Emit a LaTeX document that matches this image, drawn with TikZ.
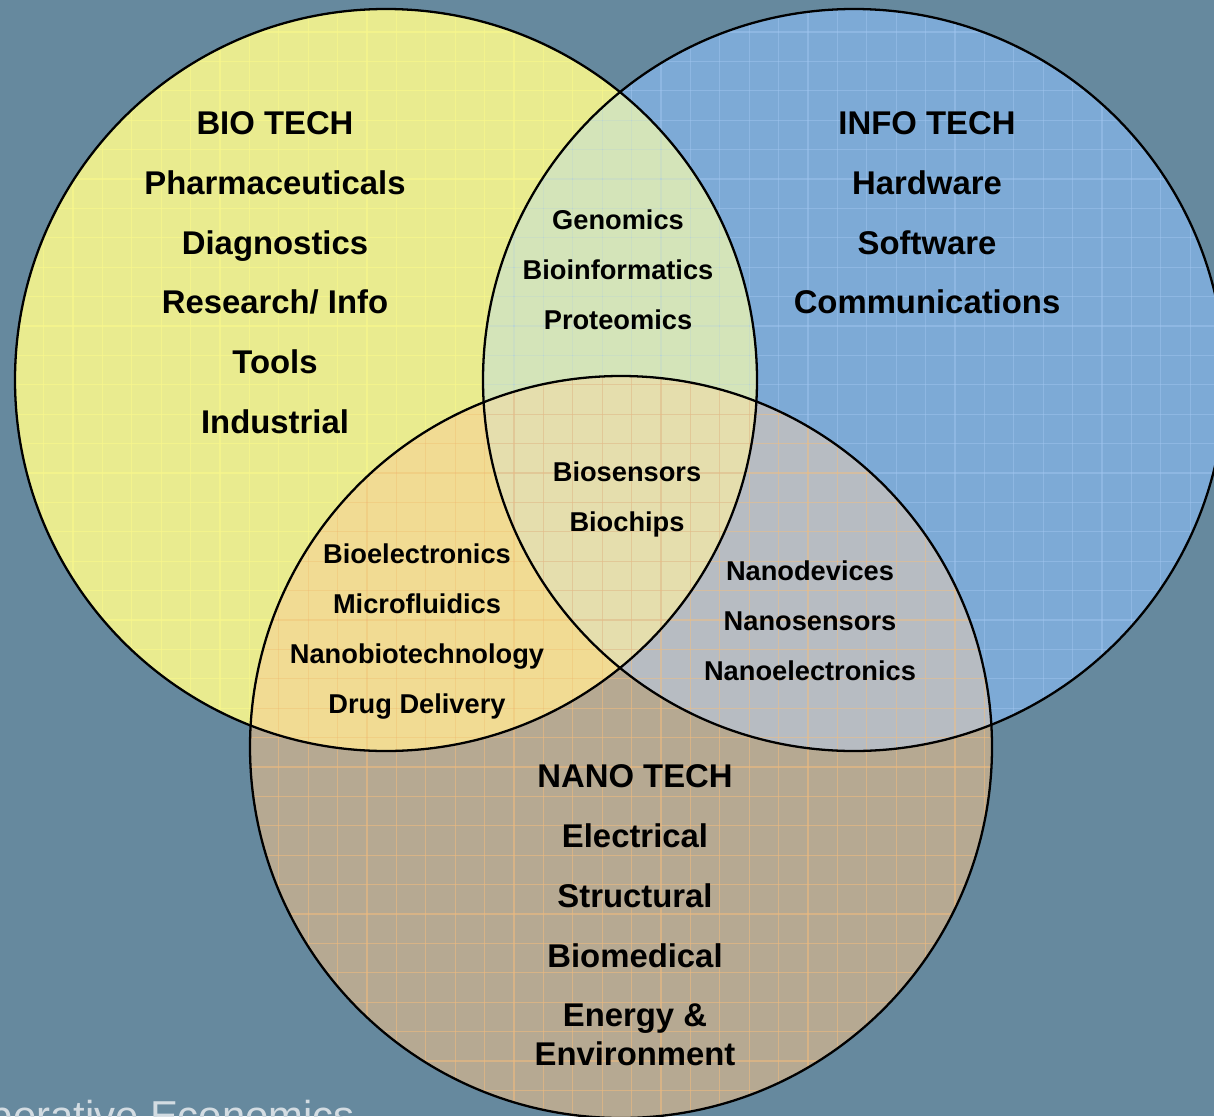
\documentclass[tikz,border=0pt]{standalone}
\usepackage{fontspec}
\setmainfont{Liberation Sans}
\definecolor{bg}{HTML}{66899E}
\definecolor{bioC}{HTML}{E9EB8F}
\definecolor{infoC}{HTML}{7DAAD6}
\definecolor{nanoC}{HTML}{B6A992}
\definecolor{bioinfoC}{HTML}{D4E4B9}
\definecolor{bionanoC}{HTML}{F1DB93}
\definecolor{infonanoC}{HTML}{B7BCC2}
\definecolor{centerC}{HTML}{E5DEAD}
\definecolor{bioG}{HTML}{F8F78C}
\definecolor{infoG}{HTML}{A3C8F2}
\definecolor{nanoG}{HTML}{EEBB7E}
\definecolor{capC}{HTML}{D3DCE2}
\begin{document}
\begin{tikzpicture}[x=0.02cm,y=-0.02cm,
  big/.style={font=\fontsize{18.7}{22}\selectfont\bfseries, anchor=base, inner sep=0pt},
  small/.style={font=\fontsize{15.5}{18}\selectfont\bfseries, anchor=base, inner sep=0pt},
  ring/.style={draw=black, line width=1.3pt},
  gridline/.style={line width=0.7pt, opacity=0.7}]
\def\bio{(386,380) circle (371)}
\def\info{(854,380) circle (371)}
\def\nano{(621,747) circle (371)}
\useasboundingbox (0,0) rectangle (1214,1116);
\clip (0,0) rectangle (1214,1116);
\fill[bg] (0,0) rectangle (1214,1116);
% base fills
\fill[bioC] \bio;
\fill[infoC] \info;
\fill[nanoC] \nano;
% overlaps
\begin{scope}
  \clip \bio;
  \fill[bioinfoC] \info;
  \fill[bionanoC] \nano;
\end{scope}
\begin{scope}
  \clip \info;
  \fill[infonanoC] \nano;
\end{scope}
\begin{scope}
  \clip \bio;
  \clip \info;
  \fill[centerC] \nano;
\end{scope}
% grids
\begin{scope}
  \clip \bio;
  \foreach \i in {0,...,41} {\draw[gridline, bioG] (14.2+\i*29.4,0) -- ++(0,1116);}
  \foreach \i in {0,...,38} {\draw[gridline, bioG] (0,2.6+\i*29.4) -- ++(1214,0);}
\end{scope}
\begin{scope}
  \clip \info;
  \foreach \i in {0,...,41} {\draw[gridline, infoG, opacity=0.45] (14.2+\i*29.4,0) -- ++(0,1116);}
  \foreach \i in {0,...,38} {\draw[gridline, infoG, opacity=0.45] (0,2.6+\i*29.4) -- ++(1214,0);}
\end{scope}
\begin{scope}
  \clip \nano;
  \foreach \i in {0,...,41} {\draw[gridline, nanoG, opacity=0.6] (14.2+\i*29.4,0) -- ++(0,1116);}
  \foreach \i in {0,...,38} {\draw[gridline, nanoG, opacity=0.6] (0,2.6+\i*29.4) -- ++(1214,0);}
\end{scope}
% outlines
\draw[ring] \bio;
\draw[ring] \info;
\draw[ring] \nano;
% BIO TECH
\node[big] (b1) at (275,134) {BIO TECH};
\node[big] (b2) at (275,194) {Pharmaceuticals};
\node[big] (b3) at (275,254) {Diagnostics};
\node[big] (b4) at (275,313) {Research/ Info};
\node[big] (b5) at (275,373) {Tools};
\node[big] (b6) at (275,433) {Industrial};
% INFO TECH
\node[big] (i1) at (927,134) {INFO TECH};
\node[big] (i2) at (927,194) {Hardware};
\node[big] (i3) at (927,254) {Software};
\node[big] (i4) at (927,313) {Communications};
% NANO TECH
\node[big] (n1) at (635,787) {NANO TECH};
\node[big] (n2) at (635,847) {Electrical};
\node[big] (n3) at (635,907) {Structural};
\node[big] (n4) at (635,967) {Biomedical};
\node[big] (n5) at (635,1026) {Energy \&};
\node[big] (n6) at (635,1065) {Environment};
% Bio-Info
\node[small] (bi1) at (618,229) {Genomics};
\node[small] (bi2) at (618,279) {Bioinformatics};
\node[small] (bi3) at (618,329) {Proteomics};
% center
\node[small] (c1) at (627,481) {Biosensors};
\node[small] (c2) at (627,531) {Biochips};
% Bio-Nano
\node[small] (bn1) at (417,563) {Bioelectronics};
\node[small] (bn2) at (417,613) {Microfluidics};
\node[small] (bn3) at (417,663) {Nanobiotechnology};
\node[small] (bn4) at (417,713) {Drug Delivery};
% Info-Nano
\node[small] (in1) at (810,580) {Nanodevices};
\node[small] (in2) at (810,630) {Nanosensors};
\node[small] (in3) at (810,680) {Nanoelectronics};
% caption (cut off at the bottom edge, as in the reference)
\node[font=\fontsize{23.8}{28}\selectfont, text=capC, anchor=base east, inner sep=0pt] (cap) at (355,1130) {perative Economics};
\end{tikzpicture}
\end{document}
